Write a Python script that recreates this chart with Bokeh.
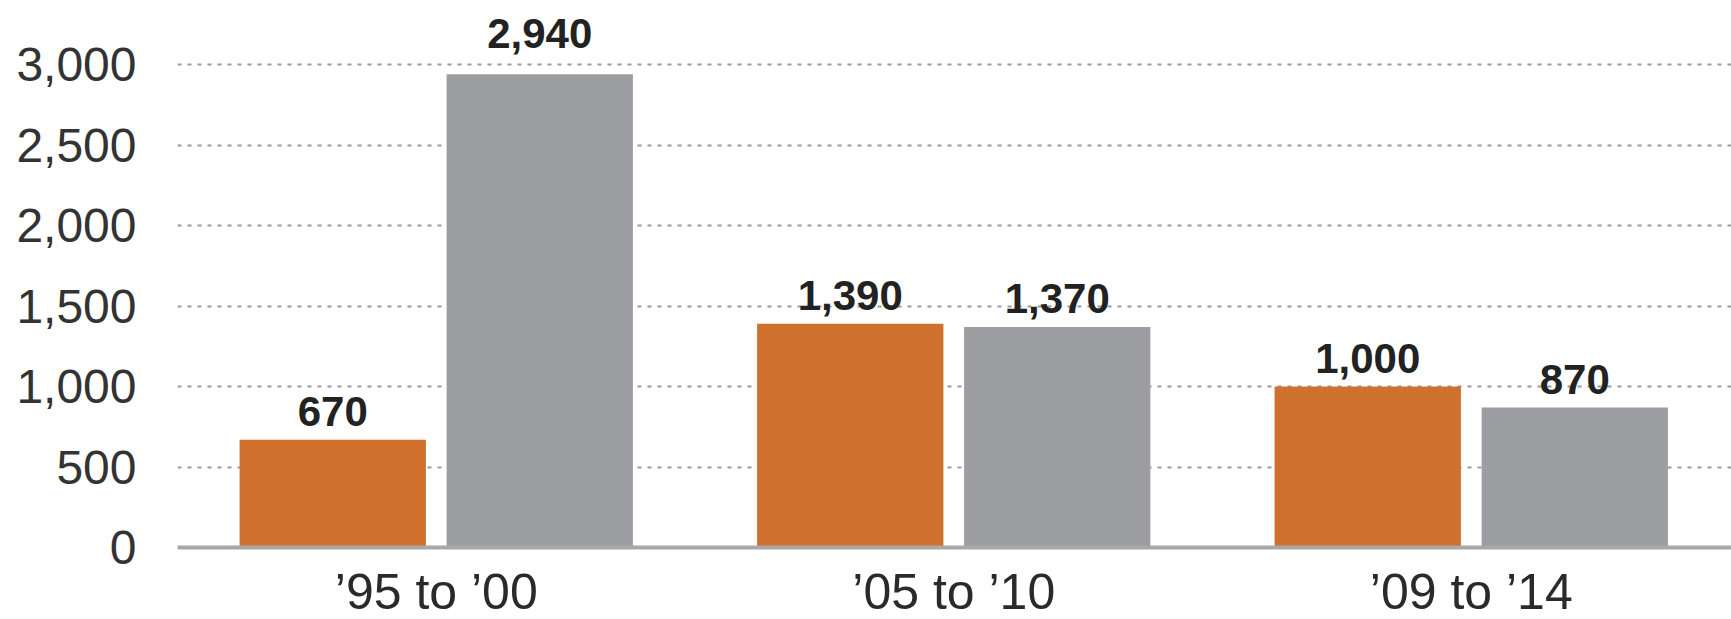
from bokeh.plotting import figure
from bokeh.models import Range1d, FixedTicker, NumeralTickFormatter, ColumnDataSource, Span
from bokeh.transform import dodge
from bokeh.core.properties import value
from bokeh.embed import file_html
from bokeh.resources import INLINE

# ---- data ----
categories = ["\u201995 to \u201900", "\u201905 to \u201910", "\u201909 to \u201914"]
series_a = [670, 1390, 1000]
series_b = [2940, 1370, 870]
y_ticks = [0, 500, 1000, 1500, 2000, 2500, 3000]

# ---- style / layout ----
ORANGE = "#D0702F"
GRAY = "#9D9EA2"
FONT = "Liberation Sans"
W, H = 1731, 619
LEFT = 177
FRAME_W = W - LEFT
GROUP_PX = 517.5
PX_PER_UNIT = 0.161
BASE_Y = 547
A_LABEL_GAP_PX = [28, 28, 28]
B_LABEL_GAP_PX = [41, 28, 28]

x_pos = [i + 0.5 for i in range(len(categories))]
src = ColumnDataSource(dict(
    x=x_pos, cat=categories, a=series_a, b=series_b,
    a_lbl=[f"{v:,}" for v in series_a], b_lbl=[f"{v:,}" for v in series_b],
    a_ly=[v + g / PX_PER_UNIT for v, g in zip(series_a, A_LABEL_GAP_PX)],
    b_ly=[v + g / PX_PER_UNIT for v, g in zip(series_b, B_LABEL_GAP_PX)],
))

p = figure(width=W, height=H, output_backend="svg", toolbar_location=None,
           x_range=Range1d(0, FRAME_W / GROUP_PX),
           y_range=Range1d(-(H - BASE_Y) / PX_PER_UNIT, BASE_Y / PX_PER_UNIT),
           x_axis_location=None,
           min_border_left=LEFT, min_border_right=0, min_border_top=0, min_border_bottom=0)
p.outline_line_color = None
p.background_fill_color = "white"
p.xgrid.visible = False

p.yaxis.ticker = FixedTicker(ticks=y_ticks)
p.yaxis.formatter = NumeralTickFormatter(format="0,0")
p.yaxis.axis_line_color = None
p.yaxis.major_tick_line_color = None
p.yaxis.minor_tick_line_color = None
p.yaxis.major_label_standoff = 35
p.yaxis.major_label_text_font = FONT
p.yaxis.major_label_text_font_size = "48px"
p.yaxis.major_label_text_color = "#333333"

p.ygrid.ticker = FixedTicker(ticks=y_ticks)
p.ygrid.grid_line_color = "#9a9a9a"
p.ygrid.grid_line_width = 2
p.ygrid.grid_line_dash = "4 6"

p.vbar(x=dodge("x", -0.2), top="a", bottom=0, width=0.36, source=src,
       fill_color=ORANGE, line_color=None)
p.vbar(x=dodge("x", 0.2), top="b", bottom=0, width=0.36, source=src,
       fill_color=GRAY, line_color=None)

p.add_layout(Span(location=0, dimension="width", line_color="#a8a8a8", line_width=4))

p.text(x=dodge("x", -0.2), y="a_ly", text="a_lbl", source=src,
       text_align="center", text_baseline="alphabetic",
       text_font=value(FONT), text_font_style="bold", text_font_size="42px",
       text_color="#222222")
p.text(x=dodge("x", 0.2), y="b_ly", text="b_lbl", source=src,
       text_align="center", text_baseline="alphabetic",
       text_font=value(FONT), text_font_style="bold", text_font_size="42px",
       text_color="#222222")

p.text(x="x", y=0, text="cat", y_offset=44, source=src,
       text_align="center", text_baseline="alphabetic",
       text_font=value(FONT), text_font_size="50px", text_color="#2a2a2a")

open("out.html", "w").write(file_html(p, INLINE))
